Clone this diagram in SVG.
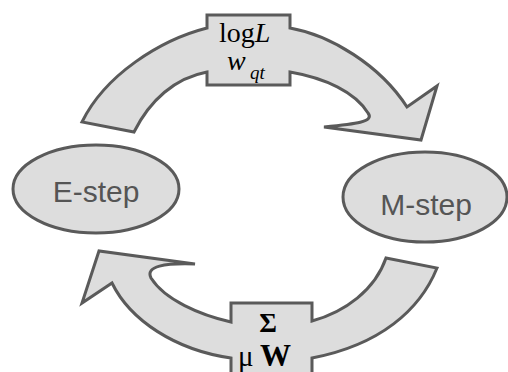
<svg xmlns="http://www.w3.org/2000/svg" width="508" height="372" viewBox="0 0 508 372">
<style>
.shape{fill:#dddddd;stroke:#5a5a5a;stroke-width:3;stroke-linejoin:miter}
.node-text{font-family:"Liberation Sans",Arial,sans-serif;font-size:30px;fill:#555555;text-anchor:middle}
.math{font-family:"Liberation Serif","Times New Roman",serif;fill:#000000}
</style>
<rect width="508" height="372" fill="#ffffff"/>
<g id="connectors">
  <g id="arrow-e-to-m">
    <path class="shape" d="M82,122 C105,75 160,40 207,28 L207,15 L290,15 L290,28 C330,35 380,65 407,107 L437,86 L421,140 L324,127 C355,124 375,122 368,113 C355,92 325,78 290,72 L290,85 L207,85 L207,72 C175,78 150,100 134,132 Z"/>
    <text class="math" font-size="28" x="219" y="42">log<tspan font-style="italic">L</tspan></text>
    <text class="math" font-size="28" x="227" y="70" font-style="italic">w</text>
    <text class="math" font-size="19" x="250" y="79" font-style="italic">qt</text>
  </g>
  <g id="arrow-m-to-e">
    <path class="shape" d="M386,258 L437,268 C420,310 380,345 312,358 L312,392 L231,392 L231,358 C175,350 130,320 112,283 L82,303 L99,251 L195,264 C165,263 145,266 151,278 C165,300 200,315 231,322 L231,303 L312,303 L312,321 C345,312 375,290 386,258 Z"/>
    <text class="math" font-size="27" x="268" y="332" text-anchor="middle" font-weight="bold">Σ</text>
    <text class="math" font-size="29" x="238" y="366">μ</text>
    <text class="math" font-size="31" x="260" y="366" font-weight="bold">W</text>
  </g>
</g>
<g id="node-e-step">
  <ellipse class="shape" cx="96" cy="189" rx="83" ry="44"/>
  <text class="node-text" x="96" y="202">E-step</text>
</g>
<g id="node-m-step">
  <ellipse class="shape" cx="425" cy="197" rx="82" ry="45"/>
  <text class="node-text" x="426" y="215">M-step</text>
</g>
</svg>
